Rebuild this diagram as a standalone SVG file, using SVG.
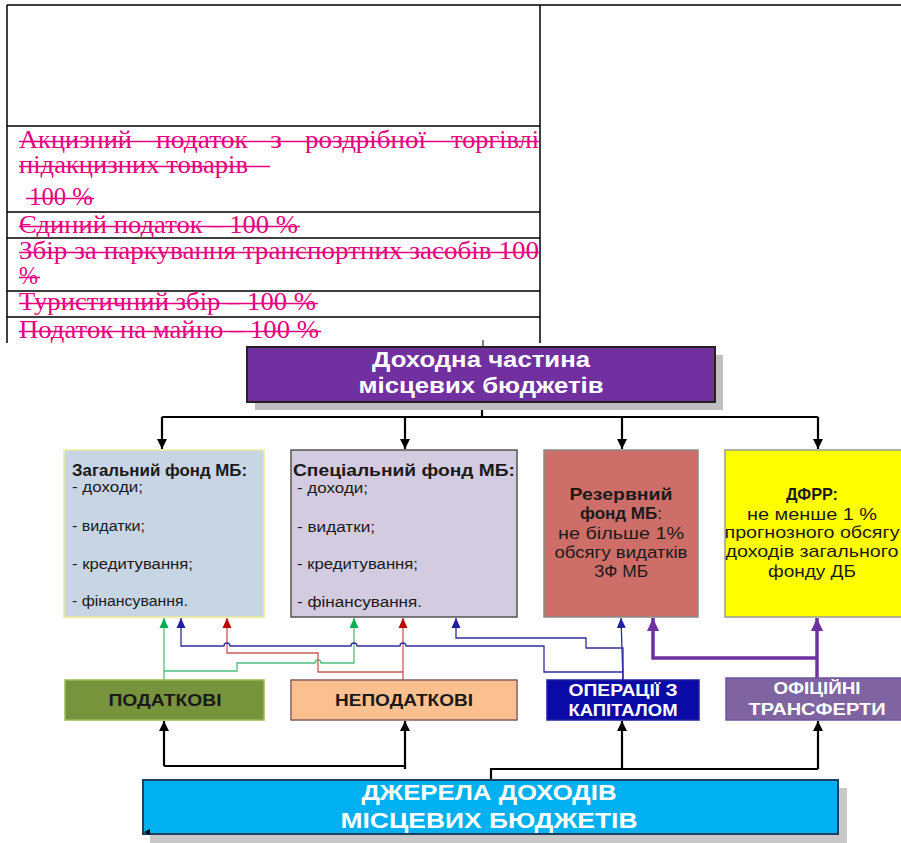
<svg xmlns="http://www.w3.org/2000/svg" width="901" height="843" viewBox="0 0 901 843">
<style>
.tbl{stroke:#000;stroke-width:1.5;fill:none}
.st{font-family:"Liberation Serif","Times New Roman",serif;font-size:25px;fill:#E6007E}
.sl{stroke:#E6007E;stroke-width:1.6}
.sans{font-family:"Liberation Sans",Arial,sans-serif}
.b{font-weight:bold}
.blk{stroke:#000;stroke-width:2.2;fill:none}
.gr{stroke:#4CC07E;stroke-width:1.3;fill:none}
.bl{stroke:#2E2E9E;stroke-width:1.3;fill:none}
.rd{stroke:#C85A55;stroke-width:1.3;fill:none}
.pu{stroke:#7030A0;stroke-width:3.5;fill:none}
</style>
<defs>
<marker id="ak" markerUnits="userSpaceOnUse" markerWidth="10" markerHeight="10" refX="10" refY="5" orient="auto"><path d="M0,0 L10,5 L0,10 z" fill="#000"/></marker>
<marker id="ag" markerUnits="userSpaceOnUse" markerWidth="10" markerHeight="10" refX="10" refY="5" orient="auto"><path d="M0,0.5 L10,5 L0,9.5 z" fill="#00B050"/></marker>
<marker id="ab" markerUnits="userSpaceOnUse" markerWidth="10" markerHeight="10" refX="10" refY="5" orient="auto"><path d="M0,0.5 L10,5 L0,9.5 z" fill="#1F1FA0"/></marker>
<marker id="ar" markerUnits="userSpaceOnUse" markerWidth="10" markerHeight="10" refX="10" refY="5" orient="auto"><path d="M0,0.5 L10,5 L0,9.5 z" fill="#C00000"/></marker>
<marker id="ap" markerUnits="userSpaceOnUse" markerWidth="13" markerHeight="12" refX="13" refY="6" orient="auto"><path d="M0,0 L13,6 L0,12 z" fill="#7030A0"/></marker>
</defs>

<g id="table">
<path class="tbl" d="M7,5 H901 M7,5 V343 M540,5 V343 M7,126 H540 M7,212 H540 M7,238 H540 M7,291 H540 M7,317 H540"/>
<text class="st" x="19" y="148" textLength="113" lengthAdjust="spacingAndGlyphs">Акцизний</text>
<text class="st" x="156" y="148" textLength="92" lengthAdjust="spacingAndGlyphs">податок</text>
<text class="st" x="270" y="148" textLength="12" lengthAdjust="spacingAndGlyphs">з</text>
<text class="st" x="305" y="148" textLength="121" lengthAdjust="spacingAndGlyphs">роздрібної</text>
<text class="st" x="451" y="148" textLength="88" lengthAdjust="spacingAndGlyphs">торгівлі</text>
<line class="sl" x1="19" y1="141.5" x2="540" y2="141.5"/>
<text class="st" x="19" y="173" textLength="229" lengthAdjust="spacingAndGlyphs">підакцизних товарів</text>
<line class="sl" x1="19" y1="166.5" x2="270" y2="166.5"/>
<text class="st" x="29" y="205" textLength="64" lengthAdjust="spacingAndGlyphs">100 %</text>
<line class="sl" x1="26" y1="198.5" x2="94" y2="198.5"/>
<text class="st" x="19" y="233" textLength="279" lengthAdjust="spacingAndGlyphs">Єдиний податок – 100 %</text>
<line class="sl" x1="19" y1="226.5" x2="300" y2="226.5"/>
<text class="st" x="19" y="259" textLength="520" lengthAdjust="spacingAndGlyphs">Збір за паркування транспортних засобів 100</text>
<line class="sl" x1="19" y1="252.5" x2="540" y2="252.5"/>
<text class="st" x="19" y="284" textLength="19" lengthAdjust="spacingAndGlyphs">%</text>
<line class="sl" x1="19" y1="277.5" x2="40" y2="277.5"/>
<text class="st" x="19" y="310" textLength="297" lengthAdjust="spacingAndGlyphs">Туристичний збір – 100 %</text>
<line class="sl" x1="19" y1="303.5" x2="318" y2="303.5"/>
<text class="st" x="19" y="338" textLength="300" lengthAdjust="spacingAndGlyphs">Податок на майно – 100 %</text>
<line class="sl" x1="19" y1="331.5" x2="321" y2="331.5"/>
</g>

<g id="connectors">
<line x1="483" y1="340" x2="483" y2="346" stroke="#000" stroke-width="1"/>
<path class="blk" d="M482,402 V417 M162,417 H818"/>
<path class="blk" d="M162,417 V449" marker-end="url(#ak)"/>
<path class="blk" d="M405,417 V449" marker-end="url(#ak)"/>
<path class="blk" d="M622,417 V449" marker-end="url(#ak)"/>
<path class="blk" d="M818,417 V449" marker-end="url(#ak)"/>

<path class="gr" d="M164,680 V618" marker-end="url(#ag)"/>
<path class="gr" d="M164,671 H237 V663 H315 a3,3 0 0 1 6,0 H354 V618" marker-end="url(#ag)"/>
<path class="rd" d="M403,680 V618" marker-end="url(#ar)"/>
<path class="rd" d="M403,672 H318 V653 H227 V618" marker-end="url(#ar)"/>
<path class="bl" d="M623,680 V672 H544 V646 H406 a3,3 0 0 0 -6,0 H357 a3,3 0 0 0 -6,0 H230 a3,3 0 0 0 -6,0 H181 V618" marker-end="url(#ab)"/>
<path class="bl" d="M623,672 V648 H586 V638 H456 V618" marker-end="url(#ab)"/>
<path class="bl" d="M623,680 L621,618" marker-end="url(#ab)"/>
<path class="pu" d="M817,680 V618" marker-end="url(#ap)"/>
<path class="pu" d="M817,658 H653 V618" marker-end="url(#ap)"/>

<path class="blk" d="M491,780 V769 H818 M405,769 V766 H164"/>
<path class="blk" d="M164,766 V721" marker-end="url(#ak)"/>
<path class="blk" d="M405,769 V721" marker-end="url(#ak)"/>
<path class="blk" d="M622,769 V721" marker-end="url(#ak)"/>
<path class="blk" d="M818,769 V721" marker-end="url(#ak)"/>
</g>

<g id="node-top">
<rect x="255" y="355" width="468" height="55" fill="#BFBFBF"/>
<rect x="247" y="347" width="468" height="55" fill="#7030A0" stroke="#222" stroke-width="2"/>
<text class="sans b" x="481" y="367" font-size="22" fill="#fff" text-anchor="middle" textLength="218" lengthAdjust="spacingAndGlyphs">Доходна частина</text>
<text class="sans b" x="481" y="393" font-size="22" fill="#fff" text-anchor="middle" textLength="245" lengthAdjust="spacingAndGlyphs">місцевих бюджетів</text>
</g>

<g id="node-general">
<rect x="64" y="450" width="200" height="167" fill="#C8D5E4" stroke="#EDEB9A" stroke-width="1.5"/>
<g class="sans" fill="#1a1a1a">
<text class="b" x="72" y="476" font-size="16" textLength="175" lengthAdjust="spacingAndGlyphs">Загальний фонд МБ:</text>
<text x="72" y="492" font-size="15.5" textLength="71" lengthAdjust="spacingAndGlyphs">- доходи;</text>
<text x="72" y="531" font-size="15.5" textLength="73" lengthAdjust="spacingAndGlyphs">- видатки;</text>
<text x="72" y="569" font-size="15.5" textLength="121" lengthAdjust="spacingAndGlyphs">- кредитування;</text>
<text x="72" y="606" font-size="15.5" textLength="116" lengthAdjust="spacingAndGlyphs">- фінансування.</text>
</g>
</g>

<g id="node-special">
<rect x="291" y="450" width="226" height="167" fill="#D3CBDF" stroke="#555" stroke-width="1.5"/>
<g class="sans" fill="#1a1a1a">
<text class="b" x="293" y="476" font-size="17" textLength="222" lengthAdjust="spacingAndGlyphs">Спеціальний фонд МБ:</text>
<text x="297" y="493" font-size="15.5" textLength="71" lengthAdjust="spacingAndGlyphs">- доходи;</text>
<text x="297" y="532" font-size="15.5" textLength="78" lengthAdjust="spacingAndGlyphs">- видатки;</text>
<text x="297" y="569" font-size="15.5" textLength="121" lengthAdjust="spacingAndGlyphs">- кредитування;</text>
<text x="297" y="607" font-size="15.5" textLength="125" lengthAdjust="spacingAndGlyphs">- фінансування.</text>
</g>
</g>

<g id="node-reserve">
<rect x="544" y="450" width="154" height="167" fill="#CE6E69" stroke="#8A8A8A" stroke-width="1.5"/>
<g class="sans" fill="#1a1a1a" text-anchor="middle" font-size="17">
<text class="b" x="621" y="500" textLength="103" lengthAdjust="spacingAndGlyphs">Резервний</text>
<text x="621" y="519"><tspan class="b">фонд МБ</tspan>:</text>
<text x="621" y="539" textLength="126" lengthAdjust="spacingAndGlyphs">не більше 1%</text>
<text x="621" y="558" textLength="133" lengthAdjust="spacingAndGlyphs">обсягу видатків</text>
<text x="621" y="577" textLength="54" lengthAdjust="spacingAndGlyphs">ЗФ МБ</text>
</g>
</g>

<g id="node-dfrr">
<rect x="725" y="450" width="182" height="167" fill="#FFFF00" stroke="#999" stroke-width="1.5"/>
<g class="sans" fill="#1a1a1a" text-anchor="middle" font-size="17">
<text class="b" x="812" y="500" textLength="52" lengthAdjust="spacingAndGlyphs">ДФРР:</text>
<text x="812" y="520" textLength="130" lengthAdjust="spacingAndGlyphs">не менше 1 %</text>
<text x="812" y="538" textLength="175" lengthAdjust="spacingAndGlyphs">прогнозного обсягу</text>
<text x="812" y="557" textLength="173" lengthAdjust="spacingAndGlyphs">доходів загального</text>
<text x="812" y="577" textLength="88" lengthAdjust="spacingAndGlyphs">фонду ДБ</text>
</g>
</g>

<g id="node-tax">
<rect x="65" y="680" width="199" height="40" fill="#77933C" stroke="#9BBB59" stroke-width="1.5"/>
<text class="sans b" x="165" y="706" font-size="17" fill="#1a1a1a" text-anchor="middle" textLength="113" lengthAdjust="spacingAndGlyphs">ПОДАТКОВІ</text>
</g>

<g id="node-nontax">
<rect x="291" y="680" width="226" height="40" fill="#FAC090" stroke="#8B5D5D" stroke-width="1.5"/>
<text class="sans b" x="404" y="706" font-size="17" fill="#1a1a1a" text-anchor="middle" textLength="138" lengthAdjust="spacingAndGlyphs">НЕПОДАТКОВІ</text>
</g>

<g id="node-capital">
<rect x="547" y="680" width="152" height="40" fill="#0A0AA6" stroke="#1F1F9F" stroke-width="1.5"/>
<text class="sans b" x="623" y="696" font-size="16" fill="#fff" text-anchor="middle" textLength="109" lengthAdjust="spacingAndGlyphs">ОПЕРАЦІЇ З</text>
<text class="sans b" x="623" y="716" font-size="16" fill="#fff" text-anchor="middle" textLength="109" lengthAdjust="spacingAndGlyphs">КАПІТАЛОМ</text>
</g>

<g id="node-transfers">
<rect x="726" y="678" width="182" height="42" fill="#8064A2" stroke="#6F559A" stroke-width="1.5"/>
<text class="sans b" x="817" y="694" font-size="16" fill="#fff" text-anchor="middle" textLength="87" lengthAdjust="spacingAndGlyphs">ОФІЦІЙНІ</text>
<text class="sans b" x="817" y="715" font-size="16" fill="#fff" text-anchor="middle" textLength="137" lengthAdjust="spacingAndGlyphs">ТРАНСФЕРТИ</text>
</g>

<g id="node-sources">
<rect x="150" y="788" width="697" height="55" fill="#C8C8C8"/>
<rect x="143" y="780" width="695" height="54" fill="#00B0F0" stroke="#1F3F60" stroke-width="2"/>
<path d="M144,832 L150,829 L150,835 z" fill="#000"/>
<text class="sans b" x="489" y="800" font-size="22" fill="#fff" text-anchor="middle" textLength="255" lengthAdjust="spacingAndGlyphs">ДЖЕРЕЛА ДОХОДІВ</text>
<text class="sans b" x="489" y="828" font-size="22" fill="#fff" text-anchor="middle" textLength="297" lengthAdjust="spacingAndGlyphs">МІСЦЕВИХ БЮДЖЕТІВ</text>
</g>
</svg>
